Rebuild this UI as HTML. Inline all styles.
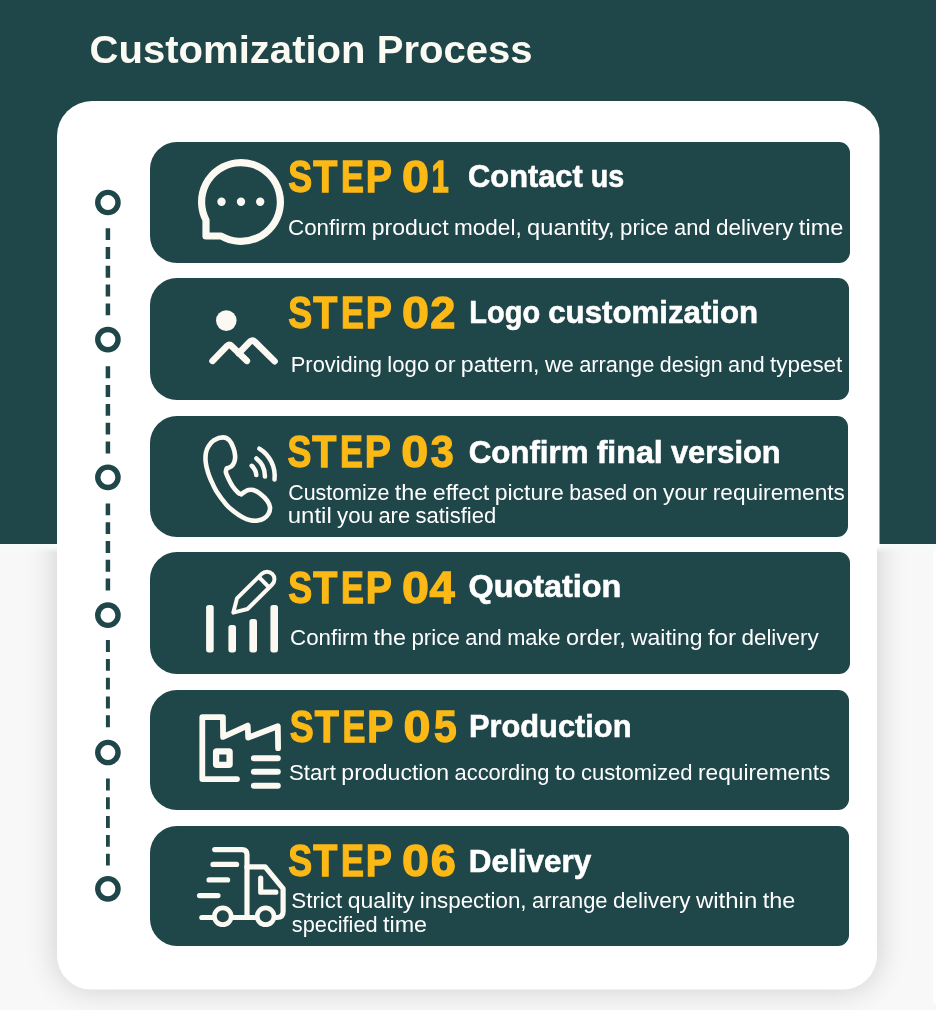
<!DOCTYPE html>
<html><head><meta charset="utf-8"><title>Customization Process</title>
<style>
html,body{margin:0;padding:0}
body{width:936px;height:1010px;position:relative;overflow:hidden;background:#f8f8f8;font-family:"Liberation Sans",sans-serif}
.top{position:absolute;left:0;top:0;width:936px;height:544px;background:#1f4649}
.strip{position:absolute;left:0;top:544px;width:936px;height:9px;background:linear-gradient(#f4fbfa 0,#f4fbfa 30%,rgba(246,250,250,0) 100%)}
.lower{position:absolute;left:0;top:544px;width:936px;height:466px;overflow:hidden}
.shadow{position:absolute;left:57px;top:-443px;width:820px;height:888px;border-radius:35px;box-shadow:0 0 30px 2px rgba(0,0,0,.16)}
.card{position:absolute;left:57px;top:101px;width:822.5px;height:888.5px;border-radius:35px;background:#fff;clip-path:inset(0 0 442px 0)}
.cardb{position:absolute;left:57px;top:101px;width:820px;height:888.5px;border-radius:35px;background:#fff;clip-path:inset(446px 0 0 0)}
.bar{position:absolute;left:150.2px;width:700px;height:121px;background:#1f4649;border-radius:27px 11px 11px 27px}
svg{position:absolute;left:0;top:0;will-change:transform}
.h{font-weight:bold;font-size:39.2px;fill:#fbfaf3}
.s{font-weight:bold;font-size:44.6px;fill:#fcb916;stroke:#fcb916;stroke-width:1.3px;stroke-linejoin:miter}
.t{font-weight:bold;font-size:31.8px;fill:#fff;stroke:#fff;stroke-width:.6px}
.d{font-size:21.4px;fill:#fff}
</style></head><body>
<div class="top"></div>
<div class="lower"><div class="shadow"></div><div style="position:absolute;left:933px;top:0;width:3px;height:460px;background:#fefefe"></div></div>
<div class="strip"></div>
<div class="card"></div><div class="cardb"></div>
<div class="bar" style="top:142.0px;height:120.5px;width:699.8px"></div>
<div class="bar" style="top:278.3px;height:121.4px;width:698.8px"></div>
<div class="bar" style="top:415.5px;height:121.2px;width:697.8px"></div>
<div class="bar" style="top:552.0px;height:121.7px;width:699.8px"></div>
<div class="bar" style="top:689.5px;height:120.0px;width:698.8px"></div>
<div class="bar" style="top:825.6px;height:120.4px;width:698.8px"></div>
<svg width="936" height="1010" viewBox="0 0 936 1010">
<!--TIMELINE-->
<circle cx="107.9" cy="202.5" r="10.15" fill="#fff" stroke="#1f4649" stroke-width="5.4"/>
<line x1="107.9" y1="228.2" x2="107.9" y2="315.4" stroke="#1f4649" stroke-width="4.5" stroke-dasharray="11.9 6.9"/>
<circle cx="107.9" cy="339.6" r="10.15" fill="#fff" stroke="#1f4649" stroke-width="5.4"/>
<line x1="107.9" y1="366.3" x2="107.9" y2="453.5" stroke="#1f4649" stroke-width="4.5" stroke-dasharray="11.9 6.9"/>
<circle cx="107.9" cy="477.3" r="10.15" fill="#fff" stroke="#1f4649" stroke-width="5.4"/>
<line x1="107.9" y1="503.4" x2="107.9" y2="590.6" stroke="#1f4649" stroke-width="4.5" stroke-dasharray="11.9 6.9"/>
<circle cx="107.9" cy="615.2" r="10.15" fill="#fff" stroke="#1f4649" stroke-width="5.4"/>
<line x1="107.9" y1="640.1" x2="107.9" y2="727.3" stroke="#1f4649" stroke-width="4.0" stroke-dasharray="11.9 6.9"/>
<circle cx="107.9" cy="752.5" r="10.15" fill="#fff" stroke="#1f4649" stroke-width="5.4"/>
<line x1="107.9" y1="778.5" x2="107.9" y2="865.7" stroke="#1f4649" stroke-width="3.8" stroke-dasharray="11.9 6.9"/>
<circle cx="107.9" cy="888.8" r="10.15" fill="#fff" stroke="#1f4649" stroke-width="5.4"/>
<text class="h" x="89.6" y="63.4" textLength="443" lengthAdjust="spacingAndGlyphs">Customization Process</text>
<!--/TIMELINE-->
<!--TEXT-->
<text class="s" transform="translate(288.29 191.9) scale(0.8030 1)">S</text><text class="s" transform="translate(313.13 191.9) scale(0.8852 1)">T</text><text class="s" transform="translate(341.00 191.9) scale(0.7712 1)">E</text><text class="s" transform="translate(365.75 191.9) scale(0.8779 1)">P</text><text class="s" transform="translate(402.09 191.9) scale(1.0884 1)">0</text><text class="s" transform="translate(431.49 191.9) scale(0.6983 1)">1</text>
<text class="s" transform="translate(288.29 327.9) scale(0.8030 1)">S</text><text class="s" transform="translate(313.13 327.9) scale(0.8852 1)">T</text><text class="s" transform="translate(341.00 327.9) scale(0.7712 1)">E</text><text class="s" transform="translate(365.75 327.9) scale(0.8779 1)">P</text><text class="s" transform="translate(402.09 327.9) scale(1.0884 1)">0</text><text class="s" transform="translate(430.19 327.9) scale(1.0144 1)">2</text>
<text class="s" transform="translate(287.39 467.1) scale(0.8030 1)">S</text><text class="s" transform="translate(312.23 467.1) scale(0.8852 1)">T</text><text class="s" transform="translate(340.10 467.1) scale(0.7712 1)">E</text><text class="s" transform="translate(364.85 467.1) scale(0.8779 1)">P</text><text class="s" transform="translate(401.19 467.1) scale(1.0884 1)">0</text><text class="s" transform="translate(430.85 467.1) scale(0.9246 1)">3</text>
<text class="s" transform="translate(288.29 603.0) scale(0.8030 1)">S</text><text class="s" transform="translate(313.13 603.0) scale(0.8852 1)">T</text><text class="s" transform="translate(341.00 603.0) scale(0.7712 1)">E</text><text class="s" transform="translate(365.75 603.0) scale(0.8779 1)">P</text><text class="s" transform="translate(402.09 603.0) scale(1.0884 1)">0</text><text class="s" transform="translate(429.57 603.0) scale(1.0163 1)">4</text>
<text class="s" transform="translate(289.79 741.9) scale(0.8030 1)">S</text><text class="s" transform="translate(314.63 741.9) scale(0.8852 1)">T</text><text class="s" transform="translate(342.50 741.9) scale(0.7712 1)">E</text><text class="s" transform="translate(367.25 741.9) scale(0.8779 1)">P</text><text class="s" transform="translate(403.59 741.9) scale(1.0884 1)">0</text><text class="s" transform="translate(433.94 741.9) scale(0.9152 1)">5</text>
<text class="s" transform="translate(288.29 876.3) scale(0.8030 1)">S</text><text class="s" transform="translate(313.13 876.3) scale(0.8852 1)">T</text><text class="s" transform="translate(341.00 876.3) scale(0.7712 1)">E</text><text class="s" transform="translate(365.75 876.3) scale(0.8779 1)">P</text><text class="s" transform="translate(402.09 876.3) scale(1.0884 1)">0</text><text class="s" transform="translate(430.71 876.3) scale(1.0105 1)">6</text>
<text class="t" x="468.07" y="187.3" textLength="114.68" lengthAdjust="spacingAndGlyphs">Contact</text><text class="t" x="590.83" y="187.3" textLength="33.44" lengthAdjust="spacingAndGlyphs">us</text>
<text class="d" x="288.04" y="235.0" textLength="78.25" lengthAdjust="spacingAndGlyphs">Confirm</text><text class="d" x="371.70" y="235.0" textLength="76.86" lengthAdjust="spacingAndGlyphs">product</text><text class="d" x="453.97" y="235.0" textLength="67.73" lengthAdjust="spacingAndGlyphs">model,</text><text class="d" x="527.11" y="235.0" textLength="87.56" lengthAdjust="spacingAndGlyphs">quantity,</text><text class="d" x="620.08" y="235.0" textLength="48.48" lengthAdjust="spacingAndGlyphs">price</text><text class="d" x="673.97" y="235.0" textLength="36.62" lengthAdjust="spacingAndGlyphs">and</text><text class="d" x="716.01" y="235.0" textLength="77.43" lengthAdjust="spacingAndGlyphs">delivery</text><text class="d" x="798.85" y="235.0" textLength="44.57" lengthAdjust="spacingAndGlyphs">time</text>
<text class="t" x="469.34" y="322.5" textLength="70.74" lengthAdjust="spacingAndGlyphs">Logo</text><text class="t" x="548.19" y="322.5" textLength="210.00" lengthAdjust="spacingAndGlyphs">customization</text>
<text class="d" x="290.77" y="372.1" textLength="91.21" lengthAdjust="spacingAndGlyphs">Providing</text><text class="d" x="387.38" y="372.1" textLength="41.84" lengthAdjust="spacingAndGlyphs">logo</text><text class="d" x="434.60" y="372.1" textLength="20.90" lengthAdjust="spacingAndGlyphs">or</text><text class="d" x="460.89" y="372.1" textLength="78.62" lengthAdjust="spacingAndGlyphs">pattern,</text><text class="d" x="544.90" y="372.1" textLength="28.93" lengthAdjust="spacingAndGlyphs">we</text><text class="d" x="579.23" y="372.1" textLength="75.14" lengthAdjust="spacingAndGlyphs">arrange</text><text class="d" x="659.75" y="372.1" textLength="62.95" lengthAdjust="spacingAndGlyphs">design</text><text class="d" x="728.09" y="372.1" textLength="36.47" lengthAdjust="spacingAndGlyphs">and</text><text class="d" x="769.96" y="372.1" textLength="72.39" lengthAdjust="spacingAndGlyphs">typeset</text>
<text class="t" x="468.63" y="462.5" textLength="119.90" lengthAdjust="spacingAndGlyphs">Confirm</text><text class="t" x="596.66" y="462.5" textLength="66.14" lengthAdjust="spacingAndGlyphs">final</text><text class="t" x="670.93" y="462.5" textLength="109.72" lengthAdjust="spacingAndGlyphs">version</text>
<text class="d" x="288.16" y="500.3" textLength="101.28" lengthAdjust="spacingAndGlyphs">Customize</text><text class="d" x="394.84" y="500.3" textLength="32.50" lengthAdjust="spacingAndGlyphs">the</text><text class="d" x="432.75" y="500.3" textLength="56.57" lengthAdjust="spacingAndGlyphs">effect</text><text class="d" x="494.73" y="500.3" textLength="69.02" lengthAdjust="spacingAndGlyphs">picture</text><text class="d" x="569.16" y="500.3" textLength="57.86" lengthAdjust="spacingAndGlyphs">based</text><text class="d" x="632.43" y="500.3" textLength="25.18" lengthAdjust="spacingAndGlyphs">on</text><text class="d" x="663.01" y="500.3" textLength="44.37" lengthAdjust="spacingAndGlyphs">your</text><text class="d" x="712.79" y="500.3" textLength="132.12" lengthAdjust="spacingAndGlyphs">requirements</text>
<text class="d" x="287.75" y="522.9" textLength="43.99" lengthAdjust="spacingAndGlyphs">until</text><text class="d" x="337.13" y="522.9" textLength="35.92" lengthAdjust="spacingAndGlyphs">you</text><text class="d" x="378.45" y="522.9" textLength="31.65" lengthAdjust="spacingAndGlyphs">are</text><text class="d" x="415.50" y="522.9" textLength="80.72" lengthAdjust="spacingAndGlyphs">satisfied</text>
<text class="t" x="468.46" y="597.0" textLength="152.90" lengthAdjust="spacingAndGlyphs">Quotation</text>
<text class="d" x="290.04" y="644.5" textLength="78.12" lengthAdjust="spacingAndGlyphs">Confirm</text><text class="d" x="373.56" y="644.5" textLength="32.47" lengthAdjust="spacingAndGlyphs">the</text><text class="d" x="411.43" y="644.5" textLength="48.39" lengthAdjust="spacingAndGlyphs">price</text><text class="d" x="465.23" y="644.5" textLength="36.56" lengthAdjust="spacingAndGlyphs">and</text><text class="d" x="507.20" y="644.5" textLength="53.34" lengthAdjust="spacingAndGlyphs">make</text><text class="d" x="565.94" y="644.5" textLength="59.73" lengthAdjust="spacingAndGlyphs">order,</text><text class="d" x="631.08" y="644.5" textLength="71.33" lengthAdjust="spacingAndGlyphs">waiting</text><text class="d" x="707.81" y="644.5" textLength="28.24" lengthAdjust="spacingAndGlyphs">for</text><text class="d" x="741.45" y="644.5" textLength="77.30" lengthAdjust="spacingAndGlyphs">delivery</text>
<text class="t" x="468.88" y="737.4" textLength="162.64" lengthAdjust="spacingAndGlyphs">Production</text>
<text class="d" x="288.98" y="780.0" textLength="46.98" lengthAdjust="spacingAndGlyphs">Start</text><text class="d" x="341.38" y="780.0" textLength="107.78" lengthAdjust="spacingAndGlyphs">production</text><text class="d" x="454.59" y="780.0" textLength="94.84" lengthAdjust="spacingAndGlyphs">according</text><text class="d" x="554.86" y="780.0" textLength="20.69" lengthAdjust="spacingAndGlyphs">to</text><text class="d" x="580.98" y="780.0" textLength="111.55" lengthAdjust="spacingAndGlyphs">customized</text><text class="d" x="697.96" y="780.0" textLength="132.53" lengthAdjust="spacingAndGlyphs">requirements</text>
<text class="t" x="468.74" y="872.4" textLength="122.47" lengthAdjust="spacingAndGlyphs">Delivery</text>
<text class="d" x="291.21" y="908.3" textLength="51.08" lengthAdjust="spacingAndGlyphs">Strict</text><text class="d" x="347.71" y="908.3" textLength="66.55" lengthAdjust="spacingAndGlyphs">quality</text><text class="d" x="419.68" y="908.3" textLength="106.89" lengthAdjust="spacingAndGlyphs">inspection,</text><text class="d" x="531.99" y="908.3" textLength="75.54" lengthAdjust="spacingAndGlyphs">arrange</text><text class="d" x="612.96" y="908.3" textLength="77.54" lengthAdjust="spacingAndGlyphs">delivery</text><text class="d" x="695.91" y="908.3" textLength="61.35" lengthAdjust="spacingAndGlyphs">within</text><text class="d" x="762.68" y="908.3" textLength="32.57" lengthAdjust="spacingAndGlyphs">the</text>
<text class="d" x="291.84" y="931.6" textLength="85.82" lengthAdjust="spacingAndGlyphs">specified</text><text class="d" x="383.01" y="931.6" textLength="44.08" lengthAdjust="spacingAndGlyphs">time</text>
<!--/TEXT-->
<!--ICONS-->
<g fill="none" stroke="#fbf9f2" stroke-width="7.2" stroke-linejoin="round"><path d="M206 220.1 L206 236 L221.1 236 A39.4 39.4 0 1 0 206 220.1 Z"/></g>
<g fill="#fbf9f2"><circle cx="221.5" cy="201.8" r="4.2"/><circle cx="241" cy="201.8" r="4.2"/><circle cx="260.2" cy="201.8" r="4.2"/></g>
<circle cx="226.3" cy="320.6" r="10.3" fill="#fbf9f2"/>
<g fill="none" stroke="#fbf9f2" stroke-width="6.5" stroke-linecap="round" stroke-linejoin="round"><path d="M212.5 360.9 L227 346 Q229.2 343.4 231.4 345.8 L246.9 360.9"/><path d="M238.8 353.3 L249.6 342 Q252.2 339 255 341.9 L274.6 361.2"/></g>
<path d="M223.1 437.4 C225.6 437.4 227.5 438.5 229.2 440.2 C230.9 441.9 232.3 445.0 233.3 447.6 C234.3 450.2 234.9 453.2 235.1 455.6 C235.3 458.0 234.9 460.3 234.3 462.1 C233.7 463.9 232.6 465.3 231.3 466.4 C230.1 467.5 227.6 468.2 226.8 468.6 C226.1 469.0 227.0 468.0 226.8 468.6 C226.7 469.2 225.5 470.5 225.9 472.4 C226.3 474.2 227.9 477.4 229.0 479.7 C230.1 482.0 231.1 484.0 232.6 486.2 C234.1 488.4 236.8 491.5 238.2 492.8 C239.6 494.1 240.8 494.0 241.3 494.2 C241.8 494.4 240.7 494.6 241.3 494.2 C241.9 493.8 243.6 492.5 244.8 491.8 C246.0 491.1 247.1 490.3 248.5 490.0 C249.9 489.7 251.2 489.4 253.2 490.0 C255.2 490.6 257.9 492.0 260.3 493.8 C262.7 495.6 265.7 498.6 267.3 500.9 C268.9 503.1 269.8 505.2 270.0 507.3 C270.2 509.4 269.5 511.9 268.5 513.8 C267.5 515.7 265.6 517.4 263.8 518.5 C262.0 519.6 260.1 520.2 257.9 520.5 C255.6 520.8 252.9 520.7 250.3 520.2 C247.8 519.7 245.3 518.8 242.6 517.3 C239.8 515.8 236.5 513.5 233.8 511.4 C231.1 509.2 229.1 507.8 226.2 504.4 C223.3 501.0 219.0 495.3 216.4 491.2 C213.8 487.1 212.2 482.8 210.8 479.7 C209.4 476.6 208.9 475.6 208.1 472.7 C207.2 469.8 206.0 465.5 205.7 462.1 C205.3 458.7 205.5 455.1 206.0 452.4 C206.5 449.7 207.4 448.0 208.7 446.0 C210.0 444.0 211.6 441.6 214.0 440.2 C216.4 438.8 220.6 437.4 223.1 437.4 Z" fill="none" stroke="#fbf9f2" stroke-width="4.6" stroke-linejoin="round"/>
<g fill="none" stroke="#fbf9f2" stroke-width="4.5" stroke-linecap="round"><path d="M259.3 448.6 A32.2 32.2 0 0 1 274.5 479.5"/><path d="M256.4 458.5 A22.4 22.4 0 0 1 264.9 476.6"/><path d="M251.7 465.8 A13.8 13.8 0 0 1 256.3 475.0"/></g>
<rect x="206.1" y="604.9" width="7.6" height="47.5" rx="2.6" fill="#fbf9f2"/>
<rect x="228.4" y="624.9" width="7.6" height="27.5" rx="2.6" fill="#fbf9f2"/>
<rect x="249.4" y="619.1" width="7.6" height="33.3" rx="2.6" fill="#fbf9f2"/>
<rect x="270.4" y="604.9" width="7.6" height="47.5" rx="2.6" fill="#fbf9f2"/>
<g transform="translate(233.3 612.6) rotate(-44.8)" fill="none" stroke="#fbf9f2" stroke-width="4" stroke-linejoin="round"><path d="M0 0 L12.6 -7.5 L47.4 -7.5 A7.5 7.5 0 0 1 47.4 7.5 L12.6 7.5 Z"/><path d="M43.2 -7.5 L43.2 7.5"/></g>
<g fill="none" stroke="#fbf9f2" stroke-width="5.8" stroke-linecap="round" stroke-linejoin="round"><path d="M237 779.1 L202.3 779.1 L202.3 717.1 L222.9 717.1 L223.1 736.9 L247.7 725.6 L248.2 737.6 L277.8 726.2 L278.1 748.1"/><rect x="216.1" y="751.3" width="13.5" height="13.5" rx="0.6" stroke-width="6.3"/></g>
<g stroke="#fbf9f2" stroke-width="6" stroke-linecap="round"><path d="M253.9 758.2H277.8M253.9 771.8H277.8M253.9 785.7H277.8"/></g>
<g fill="none" stroke="#fbf9f2" stroke-width="5.2" stroke-linecap="round" stroke-linejoin="round"><path d="M214.7 849.6 H242 Q247 849.6 247 854.6 V917.5"/><path d="M213 864.4H236.6M209.1 879.9H227.6M199.5 895.6H218"/><path d="M201.8 917.5H213.5M232 917.5H256.5"/><path d="M247 866.9 H265.2 L283.1 888.6 V911.5 Q283.1 917.5 277 917.5 H274.5"/><path d="M260.7 878.2 V892.2 H275.8"/><circle cx="222.8" cy="916.3" r="8.4" stroke-width="4.7"/><circle cx="265.6" cy="916.3" r="8.4" stroke-width="4.7"/></g>
<!--/ICONS-->
</svg>
</body></html>
